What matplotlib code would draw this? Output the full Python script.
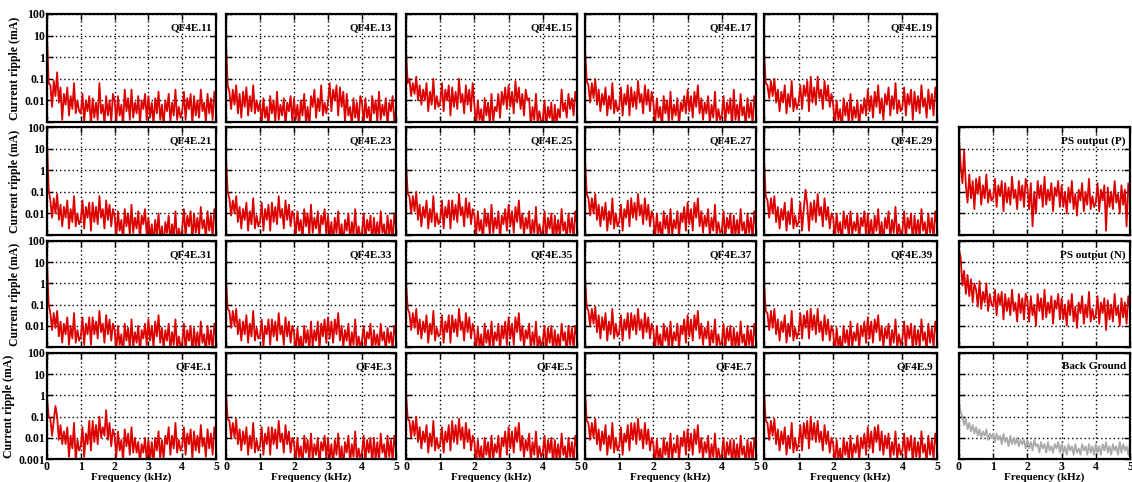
import numpy as np
import matplotlib
matplotlib.use("Agg")
import matplotlib.pyplot as plt
from matplotlib.ticker import FixedLocator, NullLocator, FixedFormatter

plt.rcParams['font.family'] = ['Liberation Serif', 'DejaVu Serif']
plt.rcParams['font.weight'] = 'bold'

# Frequency axis (kHz), 50 Hz spacing
freq_khz = np.linspace(0, 5, 101)

# Current ripple, stored as log10(mA)
qf4e_11 = [1.0, -1.2, -1.3, -2.3, -1.1, -1.8, -0.7, -2.1, -1.4, -2.9, -1.7, -2.2, -1.4, -2.7, -1.8, -2.4, -1.2, -2.6, -2.0, -2.5,
           -2.6, -1.7, -3.0, -2.0, -2.5, -1.8, -3.2, -1.9, -2.8, -2.1, -2.9, -1.2, -2.6, -2.2, -3.1, -1.8, -2.7, -2.0, -3.0, -1.7,
           -2.0, -3.0, -1.8, -2.7, -2.2, -3.2, -1.5, -2.5, -1.9, -2.9, -1.5, -2.8, -2.1, -2.6, -1.8, -3.1, -2.0, -2.4, -1.7, -2.9,
           -1.8, -2.8, -2.1, -3.1, -1.9, -2.6, -1.6, -2.9, -2.2, -3.2, -2.0, -2.5, -1.7, -3.0, -2.1, -2.7, -1.5, -2.9, -2.3, -2.8,
           -2.5, -1.6, -2.9, -1.9, -2.4, -1.7, -3.1, -1.8, -2.7, -2.0, -2.8, -1.5, -2.5, -2.1, -3.0, -1.7, -2.6, -1.9, -2.9, -1.6, -2.3]
qf4e_13 = [0.7, -1.3, -1.6, -2.4, -1.5, -2.2, -1.3, -2.6, -1.7, -2.8, -1.6, -2.3, -1.4, -2.7, -1.8, -2.5, -1.3, -2.6, -2.0, -2.5,
           -2.1, -3.1, -1.9, -2.8, -2.3, -3.3, -1.8, -2.6, -2.0, -3.0, -1.6, -2.9, -2.2, -2.7, -1.9, -3.2, -2.1, -2.5, -1.8, -3.0,
           -1.9, -2.9, -2.2, -3.2, -2.0, -2.7, -1.7, -3.0, -2.3, -3.3, -1.8, -2.3, -1.5, -2.8, -1.9, -2.5, -1.3, -2.7, -2.1, -2.6,
           -2.1, -1.2, -2.5, -1.5, -2.0, -1.3, -2.7, -1.4, -2.3, -1.6, -3.0, -1.7, -2.7, -2.3, -3.2, -1.9, -2.8, -2.1, -3.1, -1.8,
           -2.1, -3.1, -1.9, -2.8, -2.3, -3.3, -1.8, -2.6, -2.0, -3.0, -1.6, -2.9, -2.2, -2.7, -1.9, -3.2, -2.1, -2.5, -1.8, -3.0, -2.4]
qf4e_15 = [0.3, -1.2, -1.0, -1.8, -1.2, -1.7, -0.9, -2.0, -1.3, -2.2, -1.5, -2.0, -1.2, -2.5, -1.6, -2.2, -1.0, -2.4, -1.8, -2.3,
           -2.1, -1.2, -2.5, -1.5, -2.0, -1.3, -2.7, -1.4, -2.3, -1.6, -2.4, -1.0, -2.1, -1.7, -2.6, -1.3, -2.2, -1.5, -2.5, -1.2,
           -2.2, -3.2, -2.0, -2.9, -2.4, -3.4, -1.9, -2.7, -2.1, -3.1, -1.7, -3.0, -2.3, -2.5, -1.7, -2.8, -1.6, -2.2, -1.4, -2.4,
           -1.3, -2.3, -1.6, -2.6, -1.1, -2.1, -1.4, -2.4, -1.7, -2.7, -1.5, -2.0, -1.9, -3.2, -2.3, -2.9, -1.7, -3.1, -2.5, -3.0,
           -2.9, -2.0, -3.3, -2.3, -2.8, -2.1, -3.5, -2.2, -3.1, -2.4, -2.8, -1.5, -2.5, -2.1, -2.8, -1.7, -2.4, -1.9, -2.7, -1.6, -2.0]
qf4e_17 = [0.4, -1.1, -1.3, -2.1, -1.2, -1.9, -1.0, -2.2, -1.5, -2.5, -1.7, -2.2, -1.4, -2.7, -1.8, -2.4, -1.2, -2.6, -2.0, -2.5,
           -2.3, -1.4, -2.7, -1.7, -2.2, -1.3, -2.7, -1.4, -2.3, -1.6, -2.4, -1.1, -2.1, -1.7, -2.6, -1.3, -2.2, -1.5, -2.5, -1.6,
           -2.1, -3.1, -1.9, -2.8, -2.3, -3.3, -1.8, -2.6, -2.0, -3.0, -1.6, -2.9, -2.2, -2.7, -1.9, -3.2, -2.1, -2.5, -1.8, -2.6,
           -1.5, -2.5, -1.8, -2.8, -1.6, -2.3, -1.3, -2.6, -1.9, -2.9, -2.1, -2.6, -1.8, -3.1, -2.2, -2.8, -1.6, -3.0, -2.4, -2.9,
           -2.7, -1.8, -3.1, -2.1, -2.6, -1.9, -3.3, -1.5, -2.9, -2.2, -3.0, -1.7, -2.7, -2.3, -3.2, -1.9, -2.8, -2.1, -3.1, -1.8, -2.4]
qf4e_19 = [0.3, -1.2, -1.3, -1.9, -1.1, -1.8, -1.0, -2.1, -1.5, -2.5, -1.6, -2.1, -1.3, -2.6, -1.7, -2.3, -1.1, -2.5, -1.9, -2.4,
           -2.1, -1.3, -2.4, -1.3, -1.8, -1.1, -2.5, -0.9, -2.1, -1.4, -2.2, -0.9, -1.9, -1.5, -2.4, -1.1, -2.0, -1.3, -2.3, -1.7,
           -2.2, -3.2, -2.0, -2.9, -2.4, -3.4, -1.9, -2.7, -2.1, -3.1, -1.7, -3.0, -2.3, -2.8, -2.0, -3.3, -2.2, -2.6, -1.9, -2.7,
           -1.5, -2.5, -1.8, -2.8, -1.6, -2.3, -1.3, -2.6, -1.9, -2.9, -1.7, -2.2, -1.4, -2.7, -1.8, -2.4, -1.2, -2.6, -2.0, -2.5,
           -2.3, -1.4, -2.7, -1.7, -2.2, -1.5, -2.9, -1.6, -2.5, -1.8, -2.6, -1.3, -2.3, -1.9, -2.8, -1.5, -2.4, -1.7, -2.7, -1.4, -2.0]

qf4e_21 = [1.3, -0.9, -1.4, -2.2, -1.3, -2.0, -1.1, -2.3, -1.6, -2.6, -1.7, -2.2, -1.4, -2.7, -1.8, -2.4, -1.2, -2.6, -2.0, -2.5,
           -2.3, -1.4, -2.7, -1.7, -2.2, -1.5, -2.8, -1.5, -2.4, -1.7, -2.5, -1.2, -2.2, -1.8, -2.7, -1.4, -2.3, -1.6, -2.6, -1.8,
           -2.1, -3.1, -1.9, -2.8, -2.3, -3.3, -1.8, -2.6, -2.0, -3.0, -1.6, -2.9, -2.2, -2.7, -1.9, -3.2, -2.1, -2.5, -1.8, -3.0,
           -2.2, -3.2, -2.5, -3.5, -2.3, -3.0, -2.0, -3.3, -2.6, -3.6, -2.4, -2.9, -2.1, -3.4, -2.5, -3.1, -1.9, -3.3, -2.7, -3.2,
           -2.7, -1.8, -3.1, -2.1, -2.6, -1.9, -3.3, -2.0, -2.9, -2.2, -3.0, -1.7, -2.7, -2.3, -3.2, -1.9, -2.8, -2.1, -3.1, -1.8, -2.4]
qf4e_23 = [0.6, -1.0, -1.3, -2.1, -1.4, -2.0, -1.2, -2.4, -1.7, -2.7, -1.8, -2.3, -1.5, -2.8, -1.9, -2.5, -1.3, -2.7, -2.1, -2.6,
           -2.4, -1.5, -2.8, -1.8, -2.3, -1.6, -2.8, -1.5, -2.4, -1.7, -2.5, -1.2, -2.2, -1.8, -2.7, -1.4, -2.3, -1.6, -2.6, -1.9,
           -2.1, -3.1, -1.9, -2.8, -2.3, -3.3, -1.8, -2.6, -2.0, -3.0, -1.6, -2.9, -2.2, -2.7, -1.9, -3.2, -2.1, -2.5, -1.8, -3.0,
           -2.1, -3.1, -2.4, -3.4, -2.2, -2.9, -1.9, -3.2, -2.5, -3.5, -2.3, -2.8, -2.0, -3.3, -2.4, -3.0, -1.8, -3.2, -2.6, -3.1,
           -2.9, -2.0, -3.3, -2.3, -2.8, -2.1, -3.5, -2.2, -3.1, -2.4, -3.2, -1.9, -2.9, -2.5, -3.4, -2.1, -3.0, -2.3, -3.3, -2.0, -2.6]
qf4e_25 = [0.4, -1.1, -1.2, -2.0, -1.2, -1.9, -1.0, -2.3, -1.6, -2.6, -1.7, -2.2, -1.4, -2.7, -1.8, -2.4, -1.2, -2.6, -2.0, -2.5,
           -2.3, -1.4, -2.7, -1.7, -2.2, -1.4, -2.7, -1.4, -2.3, -1.6, -2.4, -1.1, -2.1, -1.7, -2.6, -1.3, -2.2, -1.5, -2.5, -1.8,
           -2.1, -3.1, -1.9, -2.8, -2.3, -3.3, -1.8, -2.6, -2.0, -3.0, -1.6, -2.9, -2.2, -2.7, -1.9, -3.2, -2.1, -2.5, -1.8, -2.8,
           -1.6, -2.6, -1.9, -2.9, -1.7, -2.4, -1.4, -2.7, -2.0, -3.0, -2.2, -2.7, -1.9, -3.2, -2.3, -2.9, -1.7, -3.1, -2.5, -3.0,
           -2.8, -1.9, -3.2, -2.2, -2.7, -2.0, -3.4, -2.1, -3.0, -2.3, -3.1, -1.8, -2.8, -2.4, -3.3, -2.0, -2.9, -2.2, -3.2, -1.9, -2.5]
qf4e_27 = [0.5, -1.1, -1.3, -2.1, -1.3, -2.0, -1.1, -2.3, -1.6, -2.6, -1.7, -2.3, -1.5, -2.8, -1.9, -2.5, -1.3, -2.7, -2.0, -2.6,
           -2.4, -1.6, -2.8, -1.8, -2.2, -1.4, -2.6, -1.3, -2.2, -1.5, -2.3, -1.1, -2.1, -1.6, -2.5, -1.3, -2.3, -1.6, -2.6, -1.9,
           -2.2, -3.2, -2.0, -2.9, -2.4, -3.4, -1.9, -2.7, -2.1, -3.1, -1.8, -3.0, -2.3, -2.7, -1.9, -3.1, -2.0, -2.4, -1.7, -2.8,
           -1.5, -2.5, -1.8, -2.8, -1.5, -2.2, -1.3, -2.6, -1.9, -2.9, -2.1, -2.6, -1.8, -3.1, -2.2, -2.8, -1.6, -3.0, -2.4, -2.9,
           -2.8, -1.9, -3.2, -2.2, -2.7, -2.0, -3.4, -2.1, -3.0, -2.3, -3.1, -1.8, -2.8, -2.4, -3.3, -2.0, -2.9, -2.2, -3.2, -1.9, -2.6]
qf4e_29 = [0.5, -1.2, -1.4, -2.2, -1.3, -2.0, -1.2, -2.4, -1.7, -2.7, -1.8, -2.3, -1.5, -2.8, -1.9, -2.5, -1.3, -2.7, -2.1, -2.6,
           -2.4, -1.5, -2.8, -1.8, -0.9, -1.6, -2.8, -1.5, -2.3, -1.4, -2.4, -1.1, -2.1, -1.7, -2.6, -1.3, -2.3, -1.7, -2.7, -2.0,
           -2.2, -3.2, -2.0, -2.9, -2.4, -3.4, -1.9, -2.7, -2.1, -3.1, -1.9, -3.0, -2.4, -2.8, -2.0, -3.3, -2.2, -2.6, -1.9, -3.1,
           -2.0, -3.0, -2.3, -3.3, -2.1, -2.8, -1.8, -3.1, -2.4, -3.4, -2.2, -2.7, -1.9, -3.2, -2.3, -2.9, -1.7, -3.1, -2.5, -3.0,
           -2.8, -1.9, -3.2, -2.2, -2.7, -2.0, -3.4, -2.1, -3.0, -2.3, -3.1, -1.8, -2.8, -2.4, -3.3, -2.0, -2.9, -2.2, -3.2, -1.9, -2.5]
ps_output_p = [1.5, 0.2, -0.6, 0.9, -0.7, -1.5, -0.2, -1.3, -0.5, -1.8, -0.4, -1.1, -0.3, -1.6, -0.7, -1.3, -0.2, -1.5, -0.9, -1.4,
               -1.3, -0.4, -1.7, -0.7, -1.2, -0.5, -1.9, -0.6, -1.5, -0.8, -1.6, -0.3, -1.3, -0.9, -1.8, -0.5, -1.4, -0.7, -1.7, -0.4,
               -0.8, -1.8, -0.6, -2.6, -1.0, -2.0, -0.5, -1.3, -0.7, -1.7, -0.3, -1.6, -0.9, -1.4, -0.6, -1.9, -0.8, -1.2, -0.5, -1.7,
               -0.7, -1.7, -1.0, -2.0, -0.8, -1.5, -0.5, -1.8, -1.1, -2.1, -0.9, -1.4, -0.6, -1.9, -1.0, -1.6, -0.4, -1.8, -1.2, -1.7,
               -1.5, -0.6, -1.9, -0.9, -1.4, -0.7, -2.8, -0.8, -1.7, -1.0, -1.8, -0.5, -1.5, -1.1, -2.0, -0.7, -1.6, -0.9, -2.6, -0.6, -1.2]

qf4e_31 = [1.0, -1.0, -1.4, -2.2, -1.4, -2.1, -1.3, -2.5, -1.8, -2.8, -1.9, -2.4, -1.6, -2.9, -2.0, -2.6, -1.4, -2.8, -2.2, -2.7,
           -2.5, -1.6, -2.9, -1.9, -2.4, -1.6, -2.9, -1.6, -2.4, -1.8, -2.6, -1.3, -2.3, -1.9, -2.8, -1.5, -2.4, -1.7, -2.7, -1.9,
           -2.2, -3.2, -2.0, -2.9, -2.4, -3.4, -1.9, -2.7, -2.1, -3.1, -1.7, -3.0, -2.3, -2.8, -2.0, -3.3, -2.2, -2.6, -1.9, -2.9,
           -1.7, -2.7, -2.0, -3.0, -1.8, -2.5, -1.5, -2.8, -2.1, -3.1, -2.2, -2.7, -1.9, -3.2, -2.3, -2.9, -1.7, -3.1, -2.5, -3.0,
           -2.8, -1.9, -3.2, -2.2, -2.7, -2.0, -3.4, -2.1, -3.0, -2.3, -3.1, -1.8, -2.8, -2.4, -3.3, -2.0, -2.9, -2.2, -3.2, -1.9, -2.5]
qf4e_33 = [0.2, -1.2, -1.3, -2.1, -1.3, -2.0, -1.2, -2.4, -1.7, -2.7, -1.8, -2.4, -1.5, -2.8, -1.9, -2.5, -1.3, -2.7, -2.1, -2.6,
           -2.5, -1.7, -3.0, -2.0, -2.4, -1.7, -2.9, -1.7, -2.5, -1.8, -2.7, -1.4, -2.4, -2.0, -2.9, -1.6, -2.5, -1.8, -2.8, -2.0,
           -2.3, -3.3, -2.1, -3.0, -2.5, -3.5, -2.0, -2.8, -2.2, -3.2, -1.8, -3.0, -2.2, -2.7, -1.8, -3.1, -1.9, -2.5, -1.7, -2.8,
           -1.6, -2.6, -1.8, -2.8, -1.7, -2.4, -1.4, -2.7, -2.0, -3.0, -2.2, -2.7, -1.9, -3.2, -2.3, -2.9, -1.7, -3.1, -2.5, -3.0,
           -2.7, -2.0, -3.1, -2.3, -2.6, -1.9, -3.3, -2.2, -2.9, -2.4, -3.2, -1.9, -2.7, -2.3, -3.2, -2.1, -2.8, -2.3, -3.1, -2.0, -2.5]
qf4e_35 = [0.1, -1.2, -1.4, -2.2, -1.4, -2.1, -1.2, -2.4, -1.7, -2.6, -1.8, -2.3, -1.5, -2.8, -1.9, -2.4, -1.3, -2.7, -2.1, -2.5,
           -2.4, -1.5, -2.8, -1.8, -2.3, -1.5, -2.8, -1.5, -2.3, -1.7, -2.5, -1.2, -2.2, -1.8, -2.7, -1.4, -2.3, -1.6, -2.6, -1.9,
           -2.3, -3.2, -2.1, -3.0, -2.4, -3.4, -1.9, -2.8, -2.2, -3.1, -1.8, -3.0, -2.3, -2.7, -1.9, -3.2, -2.0, -2.6, -1.8, -2.9,
           -1.6, -2.6, -1.9, -2.9, -1.6, -2.3, -1.4, -2.7, -2.0, -3.0, -2.2, -2.6, -1.9, -3.1, -2.3, -2.9, -1.8, -3.2, -2.5, -3.0,
           -2.7, -2.0, -3.3, -2.1, -2.8, -2.0, -3.2, -2.2, -3.0, -2.4, -3.1, -1.9, -2.7, -2.3, -3.4, -2.0, -2.9, -2.1, -3.1, -2.0, -2.5]
qf4e_37 = [0.3, -1.1, -1.3, -2.0, -1.2, -1.9, -1.1, -2.3, -1.5, -2.6, -1.6, -2.2, -1.4, -2.7, -1.8, -2.4, -1.2, -2.6, -1.9, -2.5,
           -2.3, -1.5, -2.7, -1.7, -2.2, -1.4, -2.6, -1.4, -2.2, -1.5, -2.4, -1.2, -2.2, -1.7, -2.6, -1.4, -2.3, -1.6, -2.6, -1.9,
           -2.2, -3.2, -2.0, -2.9, -2.4, -3.4, -1.9, -2.7, -2.1, -3.1, -1.8, -3.0, -2.3, -2.7, -1.9, -3.1, -2.0, -2.4, -1.7, -2.8,
           -1.5, -2.5, -1.7, -2.7, -1.5, -2.2, -1.3, -2.6, -1.9, -2.9, -2.1, -2.6, -1.8, -3.1, -2.2, -2.8, -1.7, -3.0, -2.4, -2.9,
           -2.8, -1.9, -3.2, -2.1, -2.7, -2.0, -3.3, -2.1, -3.0, -2.3, -3.1, -1.8, -2.8, -2.4, -3.3, -2.0, -2.9, -2.2, -3.2, -1.9, -2.6]
qf4e_39 = [0.1, -1.3, -1.4, -2.2, -1.3, -2.1, -1.2, -2.4, -1.7, -2.7, -1.8, -2.3, -1.5, -2.8, -1.9, -2.5, -1.3, -2.7, -2.1, -2.6,
           -2.3, -1.4, -2.6, -1.5, -2.1, -1.3, -2.6, -1.2, -2.2, -1.5, -2.4, -1.2, -2.3, -1.8, -2.7, -1.5, -2.4, -1.7, -2.7, -2.0,
           -2.3, -3.3, -2.1, -3.0, -2.5, -3.4, -2.0, -2.8, -2.2, -3.1, -1.8, -3.0, -2.3, -2.7, -1.9, -3.1, -2.0, -2.5, -1.8, -2.8,
           -1.6, -2.6, -1.8, -2.8, -1.7, -2.3, -1.5, -2.7, -2.0, -3.0, -2.1, -2.6, -1.9, -3.1, -2.2, -2.8, -1.7, -3.0, -2.4, -2.9,
           -2.6, -1.8, -3.1, -2.0, -2.6, -1.9, -3.2, -2.0, -2.9, -2.2, -3.0, -1.7, -2.7, -2.3, -3.2, -1.9, -2.8, -2.1, -3.0, -1.8, -2.4]
ps_output_n = [1.6, 1.2, -0.1, 0.6, -0.5, 0.4, -0.6, 0.2, -0.9, 0.0, -0.3, -1.1, 0.1, -1.2, -0.4, -0.9, 0.0, -1.3, -0.5, -1.0,
               -1.1, -0.3, -1.5, -0.5, -1.0, -0.4, -1.7, -0.5, -1.3, -0.7, -1.5, -0.3, -1.3, -0.9, -1.8, -0.5, -1.4, -0.7, -1.7, -0.5,
               -0.8, -1.8, -0.6, -1.5, -1.0, -2.0, -0.5, -1.3, -0.7, -1.7, -0.3, -1.6, -0.9, -1.4, -0.6, -1.9, -0.8, -1.2, -0.5, -1.7,
               -0.7, -1.7, -1.0, -2.0, -0.8, -1.5, -0.5, -1.8, -1.1, -2.1, -0.9, -1.4, -0.6, -1.9, -1.0, -1.6, -0.4, -1.8, -1.2, -1.7,
               -1.5, -0.6, -1.9, -0.9, -1.4, -0.7, -2.2, -0.8, -1.7, -1.0, -1.8, -0.5, -1.5, -1.1, -2.0, -0.7, -1.6, -0.9, -1.9, -0.6, -1.2]

qf4e_1 = [-0.1, -1.0, -1.1, -1.9, -1.2, -0.5, -1.0, -2.1, -1.4, -2.3, -1.7, -2.3, -1.5, -2.9, -1.9, -2.5, -1.3, -3.1, -2.1, -2.6,
          -2.4, -1.5, -2.9, -1.8, -2.3, -1.2, -2.6, -1.2, -2.2, -1.4, -2.3, -1.0, -2.0, -1.5, -1.9, -0.7, -2.1, -1.3, -2.4, -1.6,
          -1.9, -2.9, -1.7, -2.6, -2.1, -3.1, -1.6, -2.4, -1.8, -2.8, -1.5, -2.7, -2.0, -2.7, -2.2, -3.2, -2.3, -2.7, -2.0, -3.1,
          -2.1, -3.1, -2.2, -3.2, -2.0, -2.6, -1.7, -3.0, -2.1, -3.0, -1.9, -2.3, -1.5, -2.8, -1.9, -2.5, -1.3, -2.7, -2.1, -2.6,
          -2.4, -1.5, -2.8, -1.8, -2.3, -1.6, -3.0, -1.7, -2.6, -1.9, -2.7, -1.4, -2.4, -2.0, -2.9, -1.6, -2.5, -1.8, -2.8, -1.5, -2.1]
qf4e_3 = [0.1, -1.1, -1.2, -2.0, -1.3, -2.0, -1.1, -2.3, -1.6, -2.6, -1.7, -2.3, -1.5, -2.8, -1.9, -2.5, -1.3, -2.7, -2.1, -2.6,
          -2.4, -1.5, -2.8, -1.8, -2.3, -1.5, -2.8, -1.5, -2.3, -1.6, -2.5, -1.2, -2.2, -1.8, -2.7, -1.4, -2.3, -1.7, -2.7, -2.0,
          -2.2, -3.2, -2.0, -2.9, -2.4, -3.4, -1.9, -2.7, -2.1, -3.1, -1.8, -3.0, -2.3, -2.8, -2.0, -3.3, -2.2, -2.6, -1.9, -3.0,
          -2.0, -3.0, -2.3, -3.3, -2.1, -2.8, -1.8, -3.1, -2.4, -3.4, -2.2, -2.7, -1.9, -3.2, -2.3, -2.9, -1.7, -3.1, -2.5, -3.0,
          -2.7, -1.9, -3.2, -2.1, -2.7, -2.0, -3.3, -2.0, -3.0, -2.2, -3.1, -1.8, -2.7, -2.3, -3.2, -1.9, -2.9, -2.1, -3.1, -1.9, -2.5]
qf4e_5 = [0.1, -1.1, -1.2, -2.0, -1.2, -1.9, -1.0, -2.2, -1.5, -2.5, -1.7, -2.2, -1.4, -2.7, -1.8, -2.4, -1.2, -2.6, -2.0, -2.5,
          -2.3, -1.5, -2.7, -1.7, -2.2, -1.4, -2.6, -1.2, -2.2, -1.4, -2.3, -1.1, -2.1, -1.5, -2.5, -1.3, -2.2, -1.6, -2.6, -1.9,
          -2.2, -3.2, -2.1, -3.0, -2.4, -3.4, -2.0, -2.8, -2.2, -3.2, -1.9, -3.0, -2.3, -2.7, -1.9, -3.1, -2.0, -2.4, -1.7, -2.8,
          -1.5, -2.5, -1.7, -2.7, -1.5, -2.2, -1.3, -2.6, -1.9, -2.9, -2.1, -2.6, -1.8, -3.1, -2.2, -2.8, -1.7, -3.0, -2.4, -2.9,
          -2.7, -1.9, -3.2, -2.1, -2.7, -2.0, -3.3, -2.1, -3.0, -2.3, -3.1, -1.8, -2.8, -2.4, -3.3, -2.0, -2.9, -2.2, -3.2, -1.9, -2.5]
qf4e_7 = [0.2, -1.2, -1.3, -2.1, -1.3, -2.0, -1.1, -2.3, -1.6, -2.6, -1.7, -2.3, -1.4, -2.8, -1.9, -2.5, -1.3, -2.7, -2.0, -2.6,
          -2.4, -1.5, -2.8, -1.8, -2.2, -1.4, -2.6, -1.3, -2.1, -1.3, -2.3, -1.1, -2.1, -1.6, -2.5, -1.3, -2.3, -1.6, -2.6, -2.0,
          -2.3, -3.3, -2.1, -3.0, -2.5, -3.4, -2.0, -2.8, -2.2, -3.1, -1.8, -3.0, -2.3, -2.7, -1.9, -3.1, -2.0, -2.4, -1.7, -2.8,
          -1.6, -2.6, -1.8, -2.8, -1.6, -2.3, -1.4, -2.7, -2.0, -3.0, -2.2, -2.7, -1.9, -3.2, -2.3, -2.9, -1.8, -3.1, -2.5, -3.0,
          -2.8, -2.0, -3.3, -2.2, -2.8, -2.1, -3.4, -2.1, -3.1, -2.3, -3.2, -1.9, -2.8, -2.4, -3.3, -2.1, -3.0, -2.2, -3.2, -2.0, -2.6]
qf4e_9 = [0.2, -1.2, -1.3, -2.1, -1.2, -1.9, -1.1, -2.3, -1.6, -2.6, -1.7, -2.3, -1.5, -2.8, -1.9, -2.5, -1.3, -2.7, -2.0, -2.6,
          -2.3, -1.4, -2.6, -1.3, -2.0, -1.2, -2.5, -1.0, -2.1, -1.3, -2.2, -1.2, -2.2, -1.7, -2.6, -1.4, -2.3, -1.7, -2.7, -2.0,
          -2.3, -3.3, -2.1, -3.0, -2.5, -3.4, -2.0, -2.8, -2.2, -3.2, -1.9, -3.0, -2.3, -2.7, -1.9, -3.1, -2.0, -2.5, -1.8, -2.8,
          -1.5, -2.5, -1.7, -2.7, -1.5, -2.2, -1.4, -2.6, -1.7, -2.8, -1.9, -2.5, -1.8, -3.0, -2.2, -2.8, -1.7, -3.0, -2.3, -2.8,
          -2.6, -1.8, -3.1, -2.0, -2.6, -1.9, -3.2, -2.0, -2.9, -2.2, -3.0, -1.7, -2.7, -2.3, -3.2, -1.9, -2.8, -2.1, -3.0, -1.8, -2.4]
background = [-0.3, -0.8, -1.0, -1.4, -1.1, -1.6, -1.3, -1.7, -1.4, -1.8, -1.5, -1.9, -1.6, -2.0, -1.7, -1.9, -1.6, -2.1, -1.8, -2.0,
              -1.8, -2.2, -1.8, -2.1, -1.9, -2.3, -1.8, -2.2, -2.0, -2.4, -1.9, -2.3, -2.0, -2.3, -2.0, -2.4, -2.1, -2.3, -2.1, -2.5,
              -2.1, -2.5, -2.2, -2.6, -2.1, -2.4, -2.3, -2.7, -2.2, -2.5, -2.3, -2.7, -2.2, -2.6, -2.4, -2.7, -2.3, -2.5, -2.2, -2.7,
              -2.3, -2.7, -2.4, -2.8, -2.3, -2.6, -2.4, -2.8, -2.3, -2.7, -2.5, -2.8, -2.3, -2.6, -2.4, -2.8, -2.3, -2.7, -2.4, -2.8,
              -2.3, -2.7, -2.4, -2.8, -2.3, -2.6, -2.2, -2.7, -2.4, -2.8, -2.3, -2.6, -2.4, -2.8, -2.2, -2.7, -2.3, -2.6, -2.4, -2.8, -2.3]

panel_grid = [
    [("QF4E.11", qf4e_11), ("QF4E.13", qf4e_13), ("QF4E.15", qf4e_15), ("QF4E.17", qf4e_17), ("QF4E.19", qf4e_19), None],
    [("QF4E.21", qf4e_21), ("QF4E.23", qf4e_23), ("QF4E.25", qf4e_25), ("QF4E.27", qf4e_27), ("QF4E.29", qf4e_29), ("PS output (P)", ps_output_p)],
    [("QF4E.31", qf4e_31), ("QF4E.33", qf4e_33), ("QF4E.35", qf4e_35), ("QF4E.37", qf4e_37), ("QF4E.39", qf4e_39), ("PS output (N)", ps_output_n)],
    [("QF4E.1", qf4e_1), ("QF4E.3", qf4e_3), ("QF4E.5", qf4e_5), ("QF4E.7", qf4e_7), ("QF4E.9", qf4e_9), ("Back Ground", background)],
]

y_ticks = [1e-3, 1e-2, 1e-1, 1, 10, 100]
y_labels = ["0.001", "0.01", "0.1", "1", "10", "100"]
x_ticks = [0, 1, 2, 3, 4, 5]
x_labels = ["0", "1", "2", "3", "4", "5"]

W, H = 1132, 482
fig = plt.figure(figsize=(W / 100, H / 100), dpi=100)

col_px = [(47, 216), (226, 396), (406, 577), (585, 756), (764, 937), (959, 1130)]
row_px = [(14, 122), (127, 235), (241, 347), (353, 459)]

RED = "#dc0000"
GRAY = "#aaaaaa"

for r, row in enumerate(panel_grid):
    for c, entry in enumerate(row):
        if entry is None:
            continue
        name, vals = entry
        l, rgt = col_px[c]
        t, b = row_px[r]
        ax = fig.add_axes([l / W, 1 - b / H, (rgt - l) / W, (b - t) / H])
        color = GRAY if name == "Back Ground" else RED
        ax.plot(freq_khz, 10 ** np.array(vals), color=color, lw=1.3)
        ax.set_yscale("log")
        ax.set_ylim(1e-3, 100)
        ax.set_xlim(0, 5)
        ax.yaxis.set_major_locator(FixedLocator(y_ticks))
        ax.yaxis.set_minor_locator(NullLocator())
        ax.xaxis.set_major_locator(FixedLocator(x_ticks))
        ax.xaxis.set_minor_locator(NullLocator())
        ax.grid(True, color="black", linestyle=(0, (1, 2)), linewidth=1.0)
        ax.tick_params(which="both", direction="in", top=True, right=True,
                       length=4, width=1.0, labelsize=8.5, pad=1.5)
        for s in ax.spines.values():
            s.set_linewidth(1.6)
        if c == 0:
            labs = list(y_labels)
            if r < 3:
                labs[0] = ""
            ax.yaxis.set_major_formatter(FixedFormatter(labs))
            ax.set_ylabel("Current ripple (mA)", fontsize=8.5, fontweight="bold", labelpad=2)
        else:
            ax.set_yticklabels([])
        if r == 3:
            ax.xaxis.set_major_formatter(FixedFormatter(x_labels))
            ax.set_xlabel("Frequency (kHz)", fontsize=8, fontweight="bold", labelpad=-0.5)
        else:
            ax.set_xticklabels([])
        for lab in ax.get_xticklabels() + ax.get_yticklabels():
            lab.set_fontweight("bold")
        ax.text(0.975, 0.87, name, transform=ax.transAxes, ha="right", va="center",
                fontsize=8, fontweight="bold")

fig.savefig("out.png", dpi=100)
